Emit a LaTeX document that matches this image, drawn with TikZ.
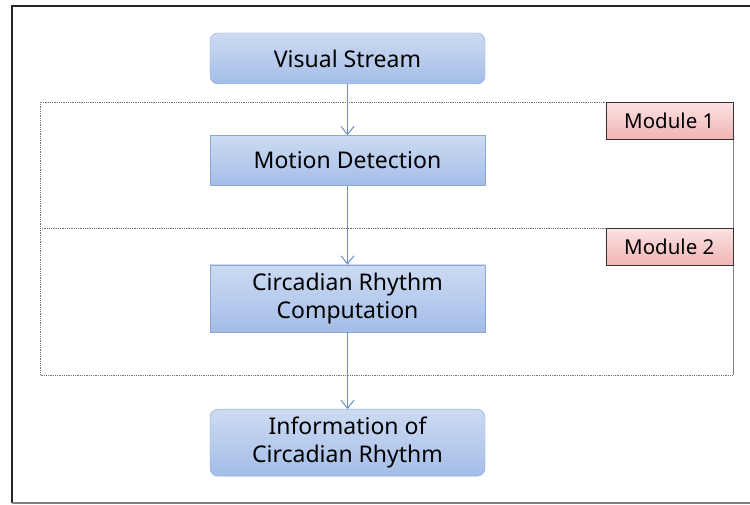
\documentclass[tikz,border=0pt]{standalone}
\usepackage{fontspec}
\setmainfont{Noto Sans}
\usetikzlibrary{positioning, arrows.meta}
\definecolor{boxtop}{RGB}{205, 219, 242}
\definecolor{boxbot}{RGB}{164, 189, 231}
\definecolor{boxline}{RGB}{140, 166, 214}
\definecolor{modtop}{RGB}{251, 226, 226}
\definecolor{modbot}{RGB}{240, 180, 180}
\definecolor{arrowcolor}{RGB}{110, 140, 200}

\begin{document}
\begin{tikzpicture}[
    x=1pt, y=1pt,
    node distance=51pt,
    box/.style={rectangle, draw=boxline, top color=boxtop, bottom color=boxbot, minimum width=275pt, align=center, font=\fontsize{23}{28}\selectfont, inner sep=0pt},
    roundbox/.style={box, rounded corners=8pt},
    modlabel/.style={rectangle, draw=black!80, top color=modtop, bottom color=modbot, minimum width=127pt, minimum height=37pt, font=\fontsize{20.5}{24}\selectfont, inner sep=0pt},
    arrow/.style={-{Straight Barb[length=8pt, width=13pt]}, arrowcolor, line width=1pt},
    modline/.style={black!55, densely dotted, line width=0.8pt},
]
\useasboundingbox (0,0) rectangle (750,505);

% ============ outer frame ============
\draw[black!85, line width=1.2pt] (12,2) -- (12,499) -- (752,499);
\draw[black!50, line width=1.2pt] (12,2) -- (752,2);

% ============ module frame ============
\coordinate (mod_tl) at (40,403);
\coordinate (mod_tr) at (733,403);
\coordinate (mod_ml) at (40,277);
\coordinate (mod_mr) at (733,277);
\coordinate (mod_bl) at (40,130);
\coordinate (mod_br) at (733,130);
\draw[modline] (mod_tr) -- (mod_tl) -- (mod_bl) -- (mod_br);
\draw[modline] (mod_ml) -- (mod_mr);
\draw[black!50, line width=0.8pt] (mod_tr) -- (mod_br);

\node[modlabel, anchor=north east] (mod1_label) at (mod_tr) {Module 1};
\node[modlabel, anchor=north east] (mod2_label) at (mod_mr) {Module 2};

% ============ flow ============
\node[roundbox, minimum height=51pt] (vis_stream) at (347.5,446.5) {Visual Stream};
\node[box, minimum height=50pt, below=51pt of vis_stream] (motion_det) {Motion Detection};
\node[box, minimum height=67pt, below=79pt of motion_det] (circ_comp) {Circadian Rhythm\\Computation};
\node[roundbox, minimum height=67pt, below=77pt of circ_comp] (circ_info) {Information of\\Circadian Rhythm};

% ============ arrows ============
\draw[arrow] (vis_stream) -- (motion_det);
\draw[arrow] (motion_det) -- (circ_comp);
\draw[arrow] (circ_comp) -- (circ_info);

\end{tikzpicture}
\end{document}
